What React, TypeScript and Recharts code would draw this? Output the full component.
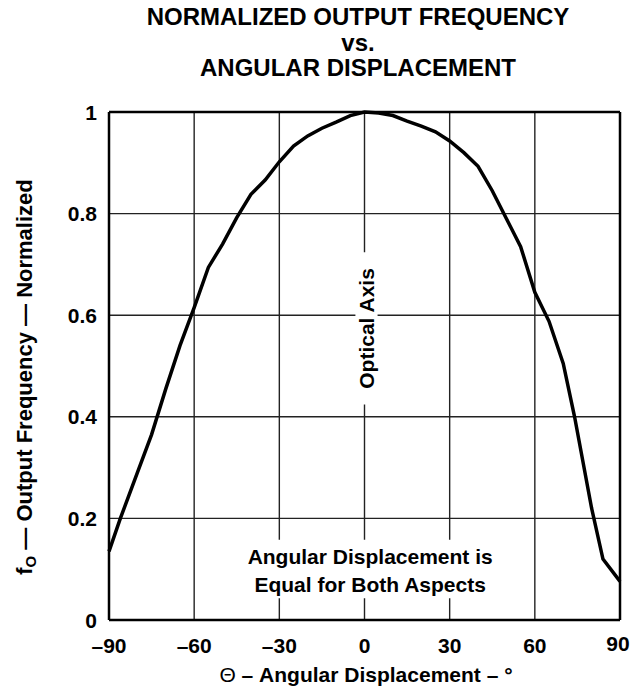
import React from 'react';
import {
    LineChart,
    Line,
    XAxis,
    YAxis,
    CartesianGrid,
    ReferenceLine,
    ReferenceArea,
    Label,
} from 'recharts';

// Angle (degrees) vs normalized output frequency
const ANGLES = [-90, -86, -80, -75, -70, -65, -60, -55, -50, -45, -40, -35, -30, -25, -20, -15, -10, -5, 0, 5, 10, 15, 20, 25, 30, 35, 40, 45, 50, 55, 60, 65, 70, 74, 77, 80, 84, 90];
const FREQ = [0.135, 0.2, 0.29, 0.365, 0.455, 0.54, 0.615, 0.694, 0.74, 0.792, 0.838, 0.866, 0.902, 0.933, 0.953, 0.968, 0.98, 0.993, 1.0, 0.998, 0.993, 0.982, 0.972, 0.961, 0.943, 0.92, 0.893, 0.845, 0.79, 0.735, 0.645, 0.588, 0.505, 0.4, 0.31, 0.22, 0.12, 0.076];

const X_TICKS = [-90, -60, -30, 0, 30, 60, 90];
const Y_TICKS = [0, 0.2, 0.4, 0.6, 0.8, 1];

const TITLE_LINES = ['NORMALIZED OUTPUT FREQUENCY', 'vs.', 'ANGULAR DISPLACEMENT'];
const NOTE_LINES = ['Angular Displacement is', 'Equal for Both Aspects'];

const FONT = '"Liberation Sans", Arial, Helvetica, sans-serif';

const data = ANGLES.map((a, i) => ({ angle: a, f: FREQ[i] }));

const fmtX = (v: number) => (v < 0 ? `\u2013${Math.abs(v)}` : `${v}`);
const fmtY = (v: number) => (v === 0 ? '0' : v === 1 ? '1' : v.toFixed(1));

const XTick = (props: any) => {
    const { x, y, payload } = props;
    const isLast = payload.value === 90;
    return (
        <text
            x={isLast ? x - 2 : x}
            y={y}
            dy={isLast ? '0.62em' : '0.71em'}
            textAnchor="middle"
            fontFamily={FONT}
            fontWeight="bold"
            fontSize={21}
            fill="#000"
        >
            {fmtX(payload.value)}
        </text>
    );
};

const YTick = (props: any) => {
    const { x, y, payload } = props;
    return (
        <text x={x} y={y} dy="0.36em" textAnchor="end" fontFamily={FONT} fontWeight="bold" fontSize={21} fill="#000">
            {fmtY(payload.value)}
        </text>
    );
};

const NoteLabel = (props: any) => {
    const vb = props.viewBox || {};
    const cx = vb.x + vb.width / 2;
    const cy = vb.y + vb.height / 2;
    return (
        <text x={cx} y={cy} textAnchor="middle" fontFamily={FONT} fontWeight="bold" fontSize={21} fill="#000">
            <tspan x={cx} dy="-0.25em">{NOTE_LINES[0]}</tspan>
            <tspan x={cx} dy="1.35em">{NOTE_LINES[1]}</tspan>
        </text>
    );
};

const AxisNoteLabel = (props: any) => {
    const vb = props.viewBox || {};
    const cx = vb.x + vb.width / 2;
    const cy = vb.y + vb.height / 2;
    return (
        <text
            x={cx}
            y={cy}
            dy="0.36em"
            textAnchor="middle"
            transform={`rotate(-90 ${cx} ${cy})`}
            fontFamily={FONT}
            fontWeight="bold"
            fontSize={21}
            fill="#000"
        >
            Optical Axis
        </text>
    );
};

const YTitle = () => {
    const cx = 24;
    const cy = 377;
    return (
        <text
            x={cx}
            y={cy}
            dy="0.36em"
            textAnchor="middle"
            transform={`rotate(-90 ${cx} ${cy})`}
            fontFamily={FONT}
            fontWeight="bold"
            fontSize={22}
            fill="#000"
        >
            f<tspan fontSize={15} dy="0.3em">O</tspan>
            <tspan dy="-0.21em"> {'\u2014'} Output Frequency {'\u2014'} Normalized</tspan>
        </text>
    );
};

const XTitle = () => (
    <text x={366} y={682} textAnchor="middle" fontFamily={FONT} fontWeight="bold" fontSize={21} fill="#000">
        <tspan fontWeight="normal">{'\u0398'}</tspan> {'\u2013'} Angular Displacement {'\u2013'} {'\u00B0'}
    </text>
);

export default function App() {
    return (
        <div style={{ position: 'absolute', left: 0, top: 0, width: 631, height: 687, background: '#fff' }}>
            <div
                style={{
                    position: 'absolute',
                    left: 0,
                    top: 4,
                    width: 716,
                    textAlign: 'center',
                    fontFamily: FONT,
                    fontWeight: 'bold',
                    fontSize: 24,
                    lineHeight: '25.5px',
                    color: '#000',
                }}
            >
                {TITLE_LINES.map((t) => (
                    <div key={t}>{t}</div>
                ))}
            </div>
            <LineChart width={631} height={687} data={data} margin={{ top: 112, right: 11, bottom: 27, left: 49 }}>
                <CartesianGrid stroke="#222" strokeWidth={1.4} />
                <XAxis
                    type="number"
                    dataKey="angle"
                    domain={[-90, 90]}
                    ticks={X_TICKS}
                    interval={0}
                    height={40}
                    tickLine={false}
                    tickMargin={12}
                    axisLine={{ stroke: '#000', strokeWidth: 2.5 }}
                    tick={<XTick />}
                >
                    <Label content={<XTitle />} />
                </XAxis>
                <YAxis
                    type="number"
                    domain={[0, 1]}
                    ticks={Y_TICKS}
                    interval={0}
                    width={60}
                    tickLine={false}
                    tickMargin={6}
                    axisLine={{ stroke: '#000', strokeWidth: 2.5 }}
                    tick={<YTick />}
                >
                    <Label content={<YTitle />} />
                </YAxis>
                <ReferenceLine y={1} stroke="#000" strokeWidth={2.5} />
                <ReferenceLine x={90} stroke="#000" strokeWidth={2.5} />
                <ReferenceArea
                    x1={-44}
                    x2={48}
                    y1={0.043}
                    y2={0.158}
                    fill="#fff"
                    fillOpacity={1}
                    stroke="none"
                    label={(p: any) => <NoteLabel {...p} />}
                />
                <ReferenceArea
                    x1={-3.2}
                    x2={4.6}
                    y1={0.424}
                    y2={0.724}
                    fill="#fff"
                    fillOpacity={1}
                    stroke="none"
                    label={(p: any) => <AxisNoteLabel {...p} />}
                />
                <Line
                    type="linear"
                    dataKey="f"
                    stroke="#000"
                    strokeWidth={3.5}
                    dot={false}
                    isAnimationActive={false}
                />
            </LineChart>
        </div>
    );
}
